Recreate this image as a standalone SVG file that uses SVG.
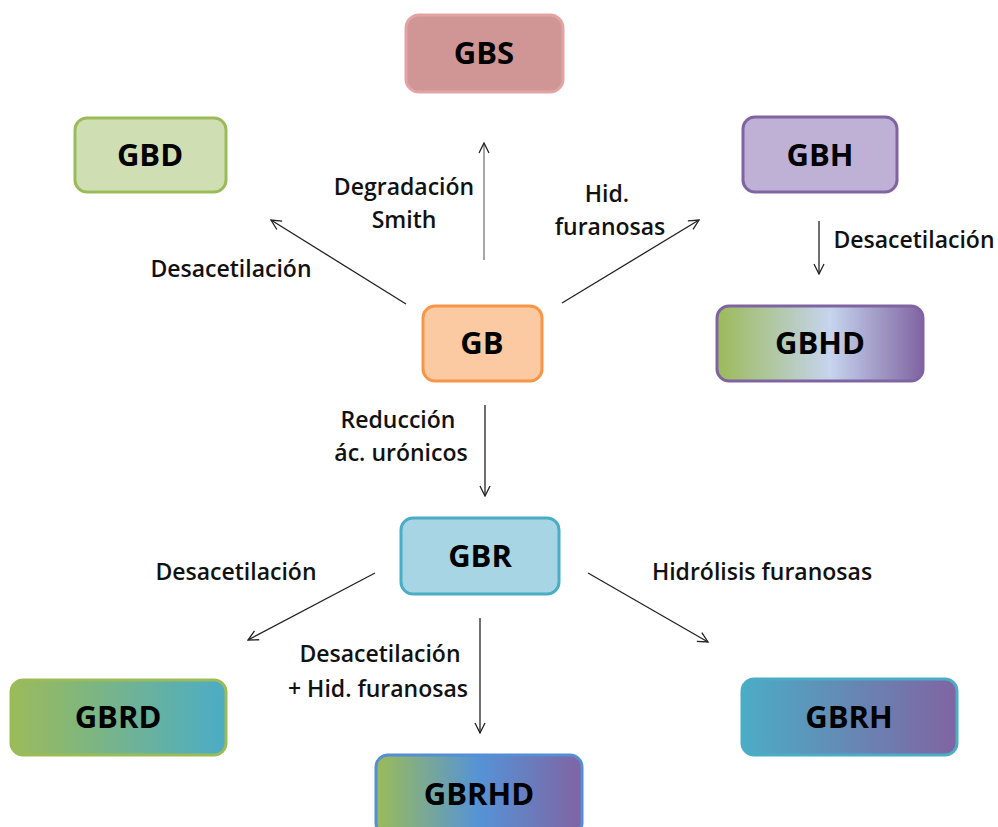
<svg xmlns="http://www.w3.org/2000/svg" width="998" height="827" viewBox="0 0 998 827">
  <defs>
    <marker id="arrow" viewBox="0 0 12 12" refX="11" refY="6" markerWidth="12" markerHeight="12" markerUnits="userSpaceOnUse" orient="auto">
      <path d="M1,1 L11,6 L1,11" fill="none" stroke="#222" stroke-width="1.3"/>
    </marker>
    <linearGradient id="gGBHD" x1="0" y1="0" x2="1" y2="0">
      <stop offset="0" stop-color="#9BBB59"/>
      <stop offset="0.55" stop-color="#C6D4EE"/>
      <stop offset="1" stop-color="#8064A2"/>
    </linearGradient>
    <linearGradient id="gGBRD" x1="0" y1="0" x2="1" y2="0">
      <stop offset="0" stop-color="#9BBB59"/>
      <stop offset="1" stop-color="#4BACC6"/>
    </linearGradient>
    <linearGradient id="gGBRHD" x1="0" y1="0" x2="1" y2="0">
      <stop offset="0" stop-color="#9BBB59"/>
      <stop offset="0.5" stop-color="#5593D6"/>
      <stop offset="1" stop-color="#8064A2"/>
    </linearGradient>
    <linearGradient id="gGBRH" x1="0" y1="0" x2="1" y2="0">
      <stop offset="0" stop-color="#4BACC6"/>
      <stop offset="1" stop-color="#8064A2"/>
    </linearGradient>
  </defs>
  <style>
    .box { stroke-width: 3; }
    .name { font-family: "Open Sans", "Liberation Sans", sans-serif; font-weight: bold; font-size: 31px; fill: #000; text-anchor: middle; }
    .lbl { font-family: "Open Sans", "Liberation Sans", sans-serif; font-weight: 600; font-size: 23px; fill: #111; text-anchor: middle; }
    .conn line { stroke: #222; stroke-width: 1.3; fill: none; marker-end: url(#arrow); }
  </style>
  <rect width="998" height="827" fill="#fff"/>

  <g id="connectors" class="conn">
    <line x1="406" y1="304" x2="271" y2="220"/>
    <line x1="484" y1="260" x2="484" y2="143" style="stroke:#777"/>
    <line x1="562" y1="303" x2="699" y2="220"/>
    <line x1="819" y1="221" x2="819" y2="274"/>
    <line x1="485" y1="405" x2="485" y2="496"/>
    <line x1="375" y1="573" x2="248" y2="640"/>
    <line x1="480" y1="618" x2="480" y2="733"/>
    <line x1="588" y1="573" x2="708" y2="642"/>
  </g>

  <g id="labels">
    <text class="lbl" x="231" y="277">Desacetilación</text>
    <text class="lbl" x="404" y="195">Degradación</text>
    <text class="lbl" x="404" y="228">Smith</text>
    <text class="lbl" x="607" y="202">Hid.</text>
    <text class="lbl" x="610" y="235">furanosas</text>
    <text class="lbl" x="914" y="248">Desacetilación</text>
    <text class="lbl" x="398" y="428">Reducción</text>
    <text class="lbl" x="401" y="461">ác. urónicos</text>
    <text class="lbl" x="236" y="580">Desacetilación</text>
    <text class="lbl" x="762" y="580">Hidrólisis furanosas</text>
    <text class="lbl" x="380" y="662">Desacetilación</text>
    <text class="lbl" x="378" y="697">+ Hid. furanosas</text>
  </g>

  <g id="GBS">
    <rect class="box" x="406" y="15" width="157" height="77" rx="13" fill="#D09696" stroke="#E3A3A3"/>
    <text class="name" x="484" y="64">GBS</text>
  </g>
  <g id="GBD">
    <rect class="box" x="75" y="118" width="151" height="74" rx="12" fill="#D0DFB3" stroke="#9BBB59"/>
    <text class="name" x="150" y="166">GBD</text>
  </g>
  <g id="GBH">
    <rect class="box" x="743" y="117" width="154" height="75" rx="12" fill="#BFB1D5" stroke="#8064A2"/>
    <text class="name" x="820" y="166">GBH</text>
  </g>
  <g id="GBHD">
    <rect class="box" x="717" y="306" width="206" height="75" rx="12" fill="url(#gGBHD)" stroke="#8064A2"/>
    <text class="name" x="820" y="354">GBHD</text>
  </g>
  <g id="GB">
    <rect class="box" x="423" y="306" width="119" height="75" rx="12" fill="#FBCAA2" stroke="#F79646"/>
    <text class="name" x="482" y="354">GB</text>
  </g>
  <g id="GBR">
    <rect class="box" x="401" y="518" width="158" height="76" rx="12" fill="#A7D5E3" stroke="#4BACC6"/>
    <text class="name" x="480" y="567">GBR</text>
  </g>
  <g id="GBRD">
    <rect class="box" x="11" y="680" width="215" height="75" rx="12" fill="url(#gGBRD)" stroke="#9BBB59"/>
    <text class="name" x="118" y="728">GBRD</text>
  </g>
  <g id="GBRH">
    <rect class="box" x="742" y="679" width="215" height="76" rx="12" fill="url(#gGBRH)" stroke="#4BACC6"/>
    <text class="name" x="849" y="728">GBRH</text>
  </g>
  <g id="GBRHD">
    <rect class="box" x="376" y="755" width="206" height="80" rx="12" fill="url(#gGBRHD)" stroke="#558ED5"/>
    <text class="name" x="479" y="805">GBRHD</text>
  </g>
</svg>
